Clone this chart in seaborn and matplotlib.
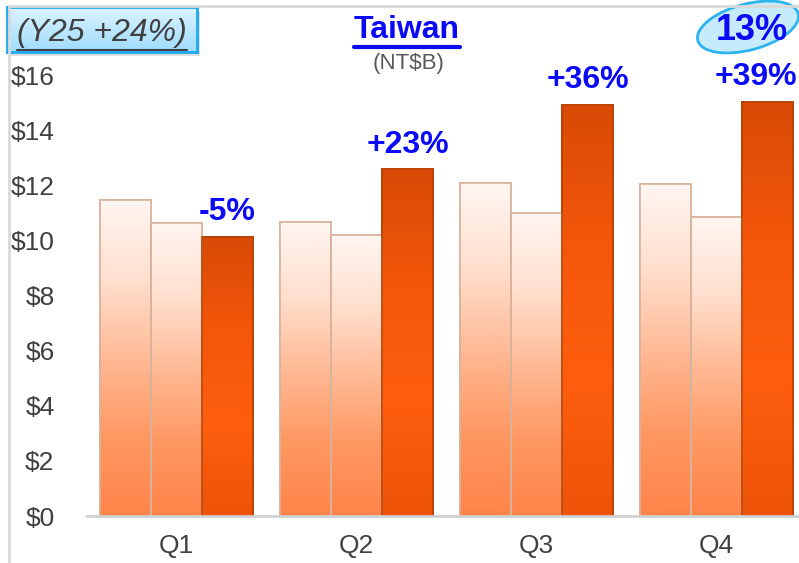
import matplotlib
matplotlib.use("Agg")
import matplotlib.pyplot as plt
import numpy as np
import pandas as pd
import seaborn as sns
from matplotlib.colors import LinearSegmentedColormap
from matplotlib.patches import Ellipse
from matplotlib.lines import Line2D
from matplotlib.transforms import IdentityTransform

# datos (NT$B)
quarters = ["Q1", "Q2", "Q3", "Q4"]
years = ["Y23", "Y24", "Y25"]
y23 = [11.5, 10.7, 12.1, 12.05]
y24 = [10.65, 10.2, 11.0, 10.85]
y25 = [10.15, 12.6, 14.95, 15.05]
pct_labels = ["-5%", "+23%", "+36%", "+39%"]
yticks = [0, 2, 4, 6, 8, 10, 12, 14, 16]

df = pd.DataFrame({
    "quarter": quarters * 3,
    "year": [y for y in years for _ in quarters],
    "value": y23 + y24 + y25,
})

sns.set_theme(style="white")
plt.rcParams["font.family"] = ["Liberation Sans", "DejaVu Sans"]

W, H = 799, 563
fig = plt.figure(figsize=(W / 100, H / 100), dpi=100)
# eje x: -0.5 -> px 86.5, 3.5 -> px 806.5 ; eje y: 0 -> px 516, 18.5 -> px 7
ax = fig.add_axes([86.5 / W, (H - 516) / H, 720 / W, 509 / H])

sns.barplot(data=df, x="quarter", y="value", hue="year", width=0.85,
            palette=["#FFB08A", "#FFB08A", "#F05A10"], legend=False,
            saturation=1, ax=ax)

light = LinearSegmentedColormap.from_list(
    "light", ["#FF844A", "#FF9862", "#FFBA96", "#FFE0CF", "#FFF6F1"])
dark = LinearSegmentedColormap.from_list(
    "dark", ["#EE5308", "#FF5E0E", "#F4560A", "#D84A06"])
grad = np.linspace(0, 1, 256).reshape(-1, 1)

labels = []
bars = ax.patches[:12]
for i, p in enumerate(bars):
    x0, y0, w, h = p.get_x(), p.get_y(), p.get_width(), p.get_height()
    is_dark = i // 4 == 2
    im = ax.imshow(grad, extent=[x0, x0 + w, y0, y0 + h], origin="lower",
                   cmap=dark if is_dark else light, aspect="auto",
                   zorder=p.get_zorder() + 0.1)
    im.set_clip_path(p)
    p.set_edgecolor("#B84000" if is_dark else "#D8B6A2")
    p.set_linewidth(1.2)
    # borde para dar relieve
    ax.add_patch(plt.Rectangle((x0, y0), w, h, fill=False, zorder=p.get_zorder() + 0.2,
                               edgecolor="#B84000" if is_dark else "#D8B29C", lw=1.2))
    if is_dark:
        labels.append(ax.annotate(pct_labels[i % 4], (x0 + w / 2, y0 + h), xytext=(0, 7),
                                  textcoords="offset points", ha="center", va="bottom",
                                  fontsize=23, fontweight="bold", color="#0A0AF5",
                                  zorder=10, annotation_clip=False))

ax.set_xlim(-0.5, 3.5)
ax.set_ylim(0, 18.5)
ax.set_yticks(yticks)
ax.set_yticklabels([f"${v}" for v in yticks])
ax.set_xlabel("")
ax.set_ylabel("")
ax.tick_params(axis="y", length=0, pad=23, labelsize=19, labelcolor="#404040")
ax.tick_params(axis="x", length=0, pad=13, labelsize=19, labelcolor="#404040")
for s in ["left", "right", "top"]:
    ax.spines[s].set_visible(False)
ax.spines["bottom"].set_color("#D0D0D0")
ax.spines["bottom"].set_linewidth(2)
ax.patch.set_alpha(0)

# marco gris de la diapositiva
fig.add_artist(Line2D([9 / W, 9 / W], [0, 1 - 6 / H], color="#D9D9D9", lw=2))
fig.add_artist(Line2D([9 / W, 1], [1 - 6 / H, 1 - 6 / H], color="#D9D9D9", lw=2))

# titulo
t_title = fig.text(407 / W, 1 - 38 / H, "Taiwan", ha="center", va="baseline",
                   fontsize=23, fontweight="bold", color="#0A0AF5")
fig.text(409 / W, 1 - 63 / H, "(NT$B)", ha="center", va="center",
         fontsize=16, color="#595959")

# caja (Y25 +24%)
shadow = fig.add_axes([10 / W, 1 - 56 / H, 190 / W, 45 / H])
shadow.set_facecolor("#C8C8C8")
shadow.set_xticks([]); shadow.set_yticks([])
for s in shadow.spines.values():
    s.set_visible(False)
shadow.patch.set_alpha(0.6)
box = fig.add_axes([7 / W, 1 - 52 / H, 190 / W, 45 / H])
box_cmap = LinearSegmentedColormap.from_list("box", ["#9FDCFF", "#DDF3FF"])
box.imshow(grad, extent=[0, 1, 0, 1], origin="lower", cmap=box_cmap, aspect="auto")
box.set_xlim(0, 1); box.set_ylim(0, 1)
box.set_xticks([]); box.set_yticks([])
for s in box.spines.values():
    s.set_color("#1EAAF0")
    s.set_linewidth(2)
t_box = box.text(0.5, 0.24, "(Y25 +24%)", ha="center", va="baseline",
                 fontsize=23, fontstyle="italic", color="#404040",
                 transform=box.transAxes)

# elipse 13%
ell = Ellipse((748, H - 27), 104, 46, angle=15, transform=IdentityTransform(),
              facecolor="#C6ECFB", edgecolor="#2DB4EE", lw=2)
fig.add_artist(ell)
fig.text(752 / W, 1 - 31 / H, "13%", ha="center", va="center",
         fontsize=26, fontweight="bold", color="#0A0AF5")

# subrayados y ajuste de etiquetas en el borde
fig.canvas.draw()
r = fig.canvas.get_renderer()
for t, col, lw, off in [(t_title, "#0A0AF5", 3, 2), (t_box, "#404040", 1.5, 2)]:
    bb = t.get_window_extent(r)
    fig.add_artist(Line2D([bb.x0, bb.x1], [bb.y0 - off, bb.y0 - off],
                          transform=IdentityTransform(), color=col, lw=lw))
for t in labels:
    bb = t.get_window_extent(r)
    if bb.x1 > W - 2:
        dx = (bb.x1 - (W - 2)) * 72 / fig.dpi
        t.set_position((-dx, 7))

fig.savefig("out.png", dpi=100)
